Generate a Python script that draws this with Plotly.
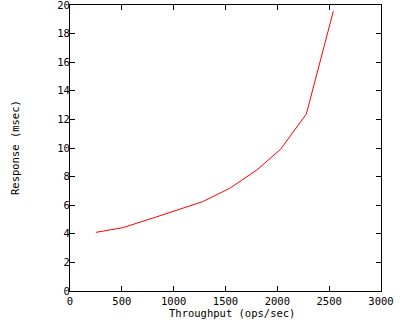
import plotly.graph_objects as go

throughput = [250, 510, 770, 1020, 1280, 1540, 1800, 2030, 2280, 2540]
response = [4.1, 4.43, 5.03, 5.62, 6.25, 7.18, 8.45, 9.9, 12.38, 19.56]

x_ticks = [0, 500, 1000, 1500, 2000, 2500, 3000]
y_ticks = [0, 2, 4, 6, 8, 10, 12, 14, 16, 18, 20]

font = dict(family="DejaVu Sans Mono, Liberation Mono, monospace", size=10.5, color="black")

fig = go.Figure()
fig.add_trace(go.Scatter(x=throughput, y=response, mode="lines",
                         line=dict(color="#ff0000", width=1), showlegend=False))

axis_common = dict(showline=True, linecolor="black", linewidth=1, mirror="allticks",
                   ticks="inside", ticklen=5, tickcolor="black", tickwidth=1,
                   showgrid=False, zeroline=False, tickfont=font, automargin=False,
                   ticklabeloverflow="allow")

L, R, T, B = 70, 19, 5, 29
W, H = 400, 320
pw, ph = W - L - R, H - T - B

fig.update_layout(
    width=W, height=H,
    margin=dict(l=L, r=R, t=T, b=B, autoexpand=False),
    paper_bgcolor="white", plot_bgcolor="white",
    font=font,
    xaxis=dict(range=[0, 3000], tickvals=x_ticks, **axis_common),
    yaxis=dict(range=[0, 20], tickvals=y_ticks, ticklabelstandoff=-3, **axis_common),
    annotations=[
        dict(text="Throughput (ops/sec)", xref="paper", yref="paper",
             x=(232 - L) / pw, y=-(313 - (T + ph)) / ph, xanchor="center", yanchor="middle",
             showarrow=False, font=font),
        dict(text="Response (msec)", xref="paper", yref="paper",
             x=(15 - L) / pw, y=0.5, xanchor="center", yanchor="middle",
             textangle=-90, showarrow=False, font=font),
    ],
)

fig.write_html("out.html", config={"displayModeBar": False},
               post_script="document.body.style.margin='0';document.body.style.padding='0';")
